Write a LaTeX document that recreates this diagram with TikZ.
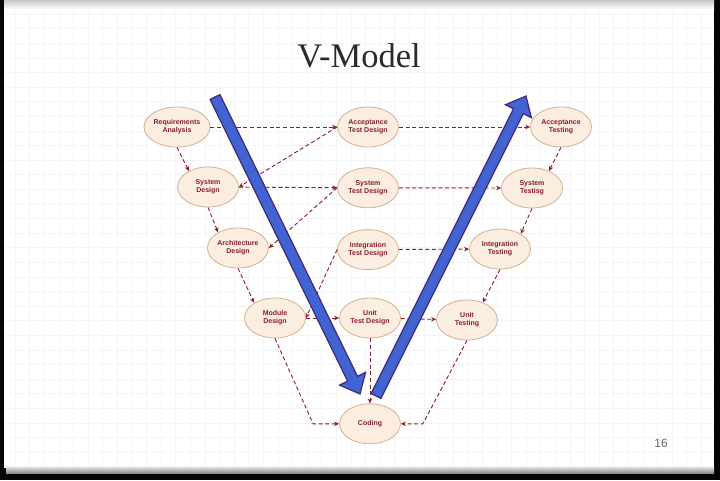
\documentclass[tikz,border=0pt]{standalone}
\usepackage{fontspec}
\setsansfont{Liberation Sans}
\newfontfamily\titlefont{Liberation Serif}
\usepackage{tikz}
\usetikzlibrary{arrows.meta,positioning,calc,shapes.geometric}
\definecolor{Frame}{HTML}{050505}
\definecolor{GridLine}{HTML}{F5F5F5}
\definecolor{Peach}{HTML}{FBEDE0}
\definecolor{Tan}{HTML}{D3B28E}
\definecolor{Wine}{HTML}{8C1C2C}
\definecolor{Royal}{HTML}{4263D2}
\definecolor{Plum}{HTML}{3E2A78}
\definecolor{TitleInk}{HTML}{2A2A2A}
\tikzset{
  phase/.style={ellipse,draw=Tan,fill=Peach,line width=0.8pt,minimum width=61pt,minimum height=40pt,inner sep=0pt,align=center,font=\sffamily\bfseries\fontsize{7}{8}\selectfont,text=Wine},
  link/.style={-{Stealth[length=5pt,width=4.5pt]},draw=Wine,line width=0.9pt,dash pattern=on 4pt off 2.6pt},
  vbar/.style={draw=Plum,fill=Royal,line width=1.2pt,line join=miter}
}
% thick V stroke from #1 (tail) to #2 (tip)
\newcommand{\vstroke}[2]{%
  \coordinate (neck) at ($(#2)!17pt!(#1)$);
  \draw[vbar] ($(#1)!5.5pt!90:(#2)$) -- ($(neck)!5.5pt!90:(#2)$) -- ($(neck)!14.5pt!90:(#2)$) -- (#2)
    -- ($(neck)!14.5pt!-90:(#2)$) -- ($(neck)!5.5pt!-90:(#2)$) -- ($(#1)!5.5pt!-90:(#2)$) -- cycle;}

\begin{document}
\begin{tikzpicture}[x=1pt,y=-1pt]
  \useasboundingbox (0,0) rectangle (720,480);
  % slide
  \fill[Frame] (0,0) rectangle (720,480);
  \fill[white] (4,0) rectangle (714,468);
  \foreach \gx in {15,29.6,...,714} \draw[GridLine,line width=0.6pt] (\gx,0) -- (\gx,468);
  \foreach \gy in {14,28.6,...,468} \draw[GridLine,line width=0.6pt] (4,\gy) -- (714,\gy);
  \shade[top color=black!22,bottom color=white] (4,0) rectangle (714,9);
  \shade[top color=black!12,bottom color=black!45] (6,467) rectangle (714,473);
  \node[anchor=base,font=\titlefont\fontsize{34.5}{40}\selectfont,text=TitleInk] (title) at (359,67) {V-Model};
  \node[anchor=base,font=\sffamily\fontsize{12}{14}\selectfont,text=black!60] (pagenum) at (661,447) {16};

  % phases
  \node[phase] (req) at (177,127) {Requirements\\Analysis};
  \node[phase] (atd) at (368,127) {Acceptance\\Test Design};
  \node[phase] (at) at (561,127) {Acceptance\\Testing};
  \node[phase] (sysd) at (208,187) {System\\Design};
  \node[phase,below=20pt of atd] (std) {System\\Test Design};
  \node[phase] (st) at (532,188) {System\\Testisg};
  \node[phase] (archd) at (238,248) {Architecture\\Design};
  \node[phase,below=21pt of std] (itd) {Integration\\Test Design};
  \node[phase] (it) at (500,249) {Integration\\Testing};
  \node[phase] (modd) at (275,318) {Module\\Design};
  \node[phase] (utd) at (370,318) {Unit\\Test Design};
  \node[phase] (ut) at (467,320) {Unit\\Testing};
  \node[phase,below=65pt of utd] (coding) {Coding};

  % links
  \draw[link] (req) -- (atd);
  \draw[link] (atd) -- (at);
  \draw[link] (sysd) -- (std);
  \draw[link] (std) -- (st);
  \draw[link] (itd) -- (it);
  \draw[link] (modd) -- (utd);
  \draw[link] (utd) -- (ut);
  \draw[link] (req.south) -- (sysd.140);
  \draw[link] (sysd.south) -- (archd.142);
  \draw[link] (archd.south) -- (modd.144);
  \draw[link] (at.south) -- (st.45);
  \draw[link] (st.south) -- (it.36);
  \draw[link] (it.south) -- (ut.48);
  \draw[link] (atd.west) -- (sysd.east);
  \draw[link] (std.west) -- (archd.east);
  \draw[link] (itd.west) -- (modd.east);
  \draw[link] (utd) -- (coding);
  \draw[link] (modd.south) -- ([xshift=-26pt]coding.west) -- (coding.west);
  \draw[link] (ut.south) -- ([xshift=22pt]coding.east) -- (coding.east);

  % the V
  \coordinate (downtail) at (215,97);
  \coordinate (downtip) at (360,394);
  \coordinate (uptail) at (376,396);
  \coordinate (uptip) at (526,96);
  \vstroke{downtail}{downtip}
  \vstroke{uptail}{uptip}
\end{tikzpicture}
\end{document}
